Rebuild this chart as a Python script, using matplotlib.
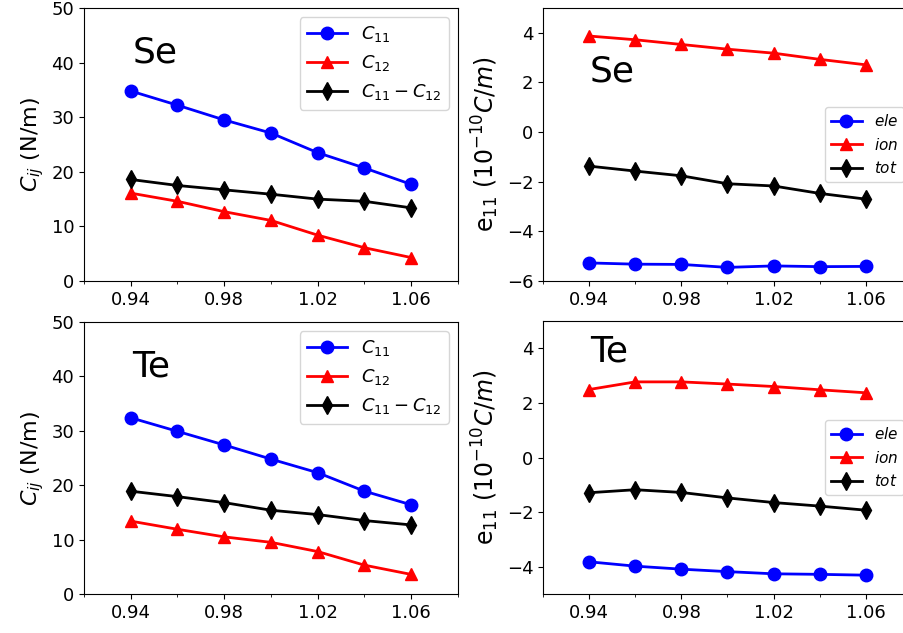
import matplotlib
matplotlib.use('Agg')
import matplotlib.pyplot as plt
from matplotlib.ticker import FixedLocator, MultipleLocator

strain = [0.94, 0.96, 0.98, 1.00, 1.02, 1.04, 1.06]

# Se elastic constants (N/m)
se_c11 = [34.8, 32.2, 29.5, 27.1, 23.5, 20.7, 17.7]
se_c12 = [16.1, 14.6, 12.7, 11.1, 8.4, 6.1, 4.3]
se_diff = [18.6, 17.5, 16.7, 15.9, 15.0, 14.6, 13.4]

# Te elastic constants (N/m)
te_c11 = [32.4, 29.9, 27.4, 24.8, 22.3, 18.9, 16.4]
te_c12 = [13.4, 11.9, 10.5, 9.5, 7.8, 5.3, 3.6]
te_diff = [18.9, 17.9, 16.8, 15.4, 14.6, 13.5, 12.7]

# piezoelectric e11 (1e-10 C/m)
se_ele = [-5.27, -5.32, -5.33, -5.45, -5.39, -5.42, -5.41]
se_ion = [3.87, 3.72, 3.53, 3.34, 3.18, 2.93, 2.71]
se_tot = [-1.37, -1.57, -1.76, -2.08, -2.17, -2.47, -2.70]

te_ele = [-3.82, -3.98, -4.09, -4.18, -4.26, -4.28, -4.31]
te_ion = [2.49, 2.77, 2.77, 2.69, 2.60, 2.48, 2.37]
te_tot = [-1.29, -1.18, -1.28, -1.48, -1.65, -1.78, -1.93]

xtick_major = [0.94, 0.98, 1.02, 1.06]

fig = plt.figure(figsize=(9.04, 6.33), dpi=100)
ax1 = fig.add_axes([0.0929, 0.556, 0.4137, 0.4314])
ax2 = fig.add_axes([0.6007, 0.556, 0.4081, 0.4314])
ax3 = fig.add_axes([0.0929, 0.0616, 0.4137, 0.4297])
ax4 = fig.add_axes([0.6007, 0.0616, 0.4081, 0.4313])

lw = 2
ms = 9

for ax, c11, c12, diff, name in [(ax1, se_c11, se_c12, se_diff, 'Se'),
                                 (ax3, te_c11, te_c12, te_diff, 'Te')]:
    ax.plot(strain, c11, 'b-o', lw=lw, ms=ms, label=r'$C_{11}$')
    ax.plot(strain, c12, 'r-^', lw=lw, ms=ms, label=r'$C_{12}$')
    ax.plot(strain, diff, 'k-d', lw=lw, ms=ms, label=r'$C_{11}-C_{12}$')
    ax.set_ylim(0, 50)
    ax.set_yticks([0, 10, 20, 30, 40, 50])
    ax.set_ylabel(r'$C_{ij}$ (N/m)', fontsize=16)
    ax.legend(loc='upper right', fontsize=13, handlelength=2.2)
    ax.text(0.13, 0.80, name, transform=ax.transAxes, fontsize=26, va='baseline')

for ax, ele, ion, tot, name, ylim, yt, ty in [
        (ax2, se_ele, se_ion, se_tot, 'Se', (-6, 5), [-6, -4, -2, 0, 2, 4], 0.73),
        (ax4, te_ele, te_ion, te_tot, 'Te', (-5, 5), [-4, -2, 0, 2, 4], 0.853)]:
    ax.plot(strain, ele, 'b-o', lw=lw, ms=ms, label=r'$ele$')
    ax.plot(strain, ion, 'r-^', lw=lw, ms=ms, label=r'$ion$')
    ax.plot(strain, tot, 'k-d', lw=lw, ms=ms, label=r'$tot$')
    ax.set_ylim(*ylim)
    ax.set_yticks(yt)
    ax.set_ylabel(r'e$_{11}$ ($10^{-10}C/m$)', fontsize=17)
    ax.legend(loc='center right', fontsize=11)
    ax.text(0.127, ty, name, transform=ax.transAxes, fontsize=26, va='baseline')

for ax in [ax1, ax2, ax3, ax4]:
    ax.set_xlim(0.92, 1.08)
    ax.xaxis.set_major_locator(FixedLocator(xtick_major))
    ax.xaxis.set_minor_locator(MultipleLocator(0.02))
    ax.set_xticklabels(['%.2f' % v for v in xtick_major])
    ax.tick_params(labelsize=13)

fig.savefig('out.png', dpi=100)
